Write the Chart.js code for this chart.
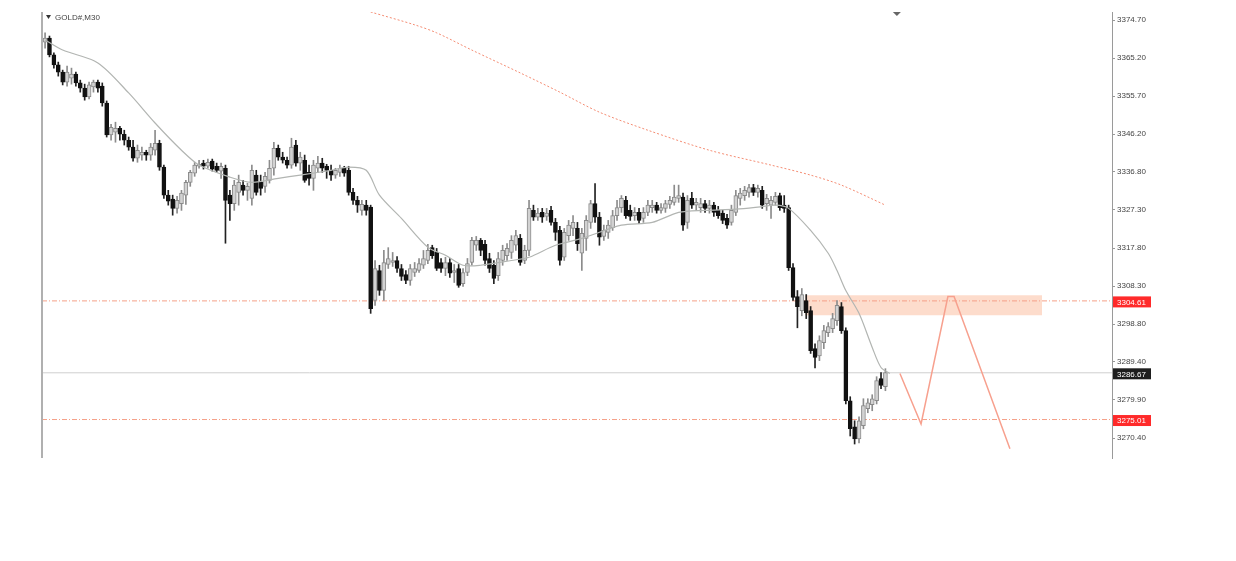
<!DOCTYPE html>
<html lang="en">
<head>
<meta charset="UTF-8">
<title>GOLD#,M30</title>
<script src="https://cdn.jsdelivr.net/npm/chart.js"></script>
<style>
  html, body { margin: 0; padding: 0; background: #fff; }
  #wrap { width: 1236px; height: 561px; }
</style>
</head>
<body>
<div id="wrap"><canvas id="goldChart" width="1236" height="561"></canvas></div>
<script>
const symbol = 'GOLD#,M30';

// M30 candles
const opens = [
  3369.2,3370.2,3366.0,3363.5,3361.7,3359.2,3360.2,3361.2,3359.0,3357.7,
  3355.5,3358.0,3359.2,3358.2,3354.0,3346.0,3346.7,3347.7,3346.2,3344.7,
  3343.0,3340.2,3341.0,3341.7,3341.0,3342.2,3343.9,3338.0,3331.0,3330.0,
  3327.7,3328.9,3331.0,3334.2,3336.5,3338.2,3339.0,3338.2,3339.5,3338.2,
  3337.0,3337.7,3331.0,3328.9,3331.7,3333.5,3332.2,3330.2,3336.0,3334.2,
  3333.2,3334.7,3337.7,3342.7,3340.5,3339.7,3338.5,3343.5,3339.0,3339.7,
  3336.7,3335.2,3337.7,3339.0,3338.2,3337.2,3336.0,3336.7,3337.7,3337.2,
  3331.7,3329.7,3327.2,3328.5,3328.0,3304.7,3312.2,3307.2,3313.7,3314.2,
  3314.7,3312.7,3311.2,3309.7,3311.7,3312.2,3313.5,3314.7,3317.9,3316.7,
  3314.2,3312.7,3314.2,3311.7,3312.7,3308.9,3311.7,3314.2,3318.5,3319.7,
  3318.7,3315.2,3313.5,3310.9,3314.7,3315.9,3316.7,3318.5,3320.2,3314.7,
  3317.2,3327.2,3325.5,3326.7,3325.7,3327.2,3324.2,3322.2,3315.5,3320.9,
  3322.7,3322.7,3316.5,3320.2,3324.2,3328.9,3325.5,3320.7,3321.7,3322.9,
  3325.9,3327.9,3329.7,3327.2,3325.9,3326.7,3325.2,3326.7,3327.9,3328.5,
  3327.2,3327.7,3328.7,3329.2,3330.2,3330.5,3324.2,3330.2,3328.5,3327.9,
  3328.9,3327.7,3328.5,3327.2,3326.5,3325.2,3324.2,3326.7,3330.2,3330.9,
  3331.7,3332.9,3331.7,3332.2,3328.9,3328.5,3329.2,3330.9,3328.5,3327.9,
  3312.9,3305.7,3302.2,3304.7,3302.2,3292.7,3290.9,3294.2,3296.7,3297.7,
  3299.7,3303.2,3297.2,3279.7,3273.2,3270.2,3273.5,3277.7,3278.7,3279.7,
  3285.2,3283.2
];
const highs = [
  3371.5,3370.7,3366.5,3364.2,3362.2,3363.2,3362.7,3361.7,3359.7,3358.7,
  3359.2,3359.7,3359.7,3359.0,3354.5,3348.7,3349.2,3348.2,3347.2,3345.5,
  3344.7,3343.5,3343.0,3342.2,3343.9,3347.2,3344.7,3338.5,3332.2,3331.0,
  3330.7,3332.2,3334.7,3337.2,3339.2,3339.7,3339.7,3340.0,3340.0,3339.0,
  3339.0,3338.5,3332.2,3334.7,3336.0,3334.7,3334.0,3338.5,3337.2,3336.0,
  3336.7,3339.7,3344.2,3343.5,3341.7,3340.5,3345.2,3344.7,3341.7,3341.0,
  3338.5,3339.7,3340.7,3340.2,3338.7,3338.5,3337.7,3338.5,3338.2,3338.2,
  3332.7,3330.7,3329.7,3329.7,3328.5,3314.7,3313.5,3317.2,3317.9,3316.7,
  3315.7,3313.7,3312.2,3313.7,3314.2,3315.2,3317.2,3318.7,3318.5,3317.7,
  3315.2,3315.5,3315.2,3313.7,3313.7,3312.7,3315.2,3320.5,3320.7,3320.2,
  3319.7,3316.5,3314.7,3316.7,3318.5,3318.9,3320.9,3322.2,3321.2,3318.5,
  3329.7,3328.5,3327.7,3327.7,3327.7,3328.2,3325.2,3323.2,3322.7,3324.7,
  3325.9,3324.2,3322.7,3325.9,3329.7,3333.9,3326.7,3323.5,3324.7,3327.2,
  3329.7,3330.9,3330.7,3328.5,3327.9,3327.7,3327.9,3329.7,3329.7,3329.2,
  3328.9,3329.7,3330.7,3333.5,3333.5,3331.5,3330.9,3331.7,3330.2,3330.2,
  3329.7,3329.7,3329.2,3328.2,3327.2,3326.2,3328.5,3332.2,3332.7,3333.2,
  3333.7,3333.7,3333.5,3333.2,3331.2,3330.7,3331.7,3331.5,3330.9,3328.5,
  3313.9,3307.2,3307.7,3306.2,3303.2,3293.9,3295.9,3298.5,3299.2,3301.5,
  3304.7,3304.2,3297.9,3280.7,3274.7,3275.7,3280.2,3280.2,3281.2,3285.7,
  3286.7,3287.7
];
const lows = [
  3367.7,3365.5,3362.7,3360.7,3358.5,3358.2,3358.7,3358.2,3356.7,3354.7,
  3355.0,3356.7,3356.7,3353.2,3345.5,3344.7,3344.2,3344.7,3343.5,3342.2,
  3339.5,3339.2,3339.7,3339.7,3339.7,3341.0,3337.2,3330.2,3328.5,3326.0,
  3326.5,3327.2,3328.7,3333.2,3335.7,3337.7,3337.5,3337.7,3337.0,3336.7,
  3335.2,3319.0,3324.7,3327.2,3328.5,3331.0,3329.7,3328.5,3331.0,3331.0,
  3331.7,3334.0,3336.0,3339.7,3339.0,3337.7,3337.7,3338.2,3337.2,3334.2,
  3333.5,3332.2,3336.7,3336.7,3335.2,3334.7,3335.2,3335.7,3335.7,3331.0,
  3328.7,3326.7,3326.0,3326.0,3301.5,3303.5,3306.0,3304.7,3312.7,3313.2,
  3311.7,3309.7,3308.9,3308.5,3310.7,3311.7,3312.7,3313.9,3315.2,3312.2,
  3311.7,3310.9,3310.5,3309.2,3308.0,3308.2,3310.9,3313.5,3317.2,3315.9,
  3313.5,3311.7,3308.9,3309.7,3313.5,3314.7,3315.2,3317.2,3313.5,3313.9,
  3315.9,3324.7,3324.7,3324.2,3324.7,3323.5,3319.7,3313.5,3314.7,3319.7,
  3320.9,3317.2,3312.2,3317.2,3322.7,3324.2,3318.5,3319.7,3320.2,3322.2,
  3324.7,3326.7,3325.2,3324.7,3324.7,3323.9,3324.2,3325.9,3326.7,3326.5,
  3326.5,3326.7,3327.7,3328.5,3329.2,3322.2,3322.7,3327.7,3327.2,3326.7,
  3326.7,3326.5,3325.7,3325.2,3323.9,3322.7,3323.5,3325.9,3328.5,3329.7,
  3330.5,3330.9,3330.5,3327.7,3327.2,3325.2,3328.5,3327.2,3326.7,3312.2,
  3304.7,3297.9,3300.9,3300.2,3291.5,3287.9,3289.7,3292.7,3295.7,3296.7,
  3298.5,3296.5,3278.9,3270.9,3268.9,3269.2,3272.7,3276.7,3277.2,3278.9,
  3282.7,3282.2
];
const closes = [
  3370.2,3366.0,3363.5,3361.7,3359.2,3361.7,3361.2,3359.0,3357.7,3355.5,
  3358.5,3359.2,3357.7,3354.0,3346.0,3347.9,3347.7,3346.2,3344.7,3343.0,
  3340.2,3342.2,3341.7,3341.0,3343.0,3343.9,3338.0,3331.0,3329.5,3327.7,
  3329.7,3331.5,3334.2,3336.7,3338.5,3338.7,3338.2,3339.2,3337.5,3337.2,
  3338.2,3329.7,3328.9,3333.5,3334.2,3332.2,3333.2,3337.2,3331.7,3332.7,
  3335.7,3337.7,3342.7,3340.5,3339.7,3338.5,3343.0,3339.0,3340.5,3334.7,
  3335.2,3338.5,3339.0,3337.7,3337.2,3336.0,3337.2,3337.7,3336.5,3331.7,
  3329.7,3328.5,3328.7,3327.2,3302.7,3312.7,3307.2,3314.2,3315.2,3314.7,
  3312.7,3310.7,3309.7,3312.7,3312.7,3313.9,3315.2,3317.2,3315.9,3312.7,
  3312.7,3314.2,3311.5,3312.2,3308.5,3311.7,3313.9,3319.7,3319.7,3317.2,
  3314.7,3312.7,3310.2,3315.2,3317.2,3317.7,3319.7,3320.9,3314.2,3317.2,
  3327.7,3325.5,3326.5,3325.5,3326.5,3324.2,3321.7,3314.7,3321.7,3323.5,
  3324.2,3318.9,3321.5,3324.7,3328.9,3325.5,3320.5,3322.2,3323.5,3325.9,
  3327.9,3330.2,3325.9,3325.7,3326.7,3324.7,3326.7,3328.5,3328.5,3327.2,
  3327.9,3328.9,3329.7,3330.5,3330.9,3323.5,3329.7,3328.5,3329.2,3328.9,
  3327.7,3328.5,3326.7,3325.9,3324.7,3323.5,3327.2,3330.9,3331.5,3332.2,
  3332.9,3331.7,3332.7,3328.5,3330.2,3329.7,3330.7,3327.9,3327.7,3312.9,
  3305.5,3303.2,3306.2,3301.7,3292.2,3290.5,3294.7,3297.2,3298.2,3300.2,
  3303.5,3297.2,3279.7,3272.7,3270.2,3274.7,3278.5,3279.2,3280.2,3284.7,
  3283.5,3286.7
];

// fast moving average (grey), by candle index
const maFastIdx = [0, 4, 12, 19, 25, 31, 35, 42, 47, 53, 58, 65, 69, 73, 76, 81, 87, 91, 95, 99,
  106, 110, 116, 122, 131, 138, 144, 150, 157, 162, 166, 169, 174, 178, 180, 182, 185, 188, 190, 192];
const maFastVals = [3369.7, 3367.2, 3364.0, 3356.5, 3349.0, 3342.2, 3338.5, 3335.5, 3334.2, 3335.2,
  3336.0, 3337.2, 3338.0, 3337.2, 3331.0, 3325.2, 3318.0, 3316.0, 3313.5, 3313.5,
  3314.7, 3315.5, 3318.5, 3320.2, 3323.5, 3324.2, 3326.7, 3327.2, 3327.5, 3328.0,
  3328.5, 3327.7, 3322.2, 3316.5, 3312.2, 3307.2, 3301.5, 3293.0, 3288.0, 3286.5];

// slow moving average (red dotted)
const maSlowIdx = [74, 84, 89, 97, 108, 117, 126, 137, 151, 165, 174, 181, 191];
const maSlowVals = [3376.7, 3373.5, 3371.5, 3367.2, 3361.5, 3356.7, 3351.7, 3347.2, 3342.2, 3338.5,
  3336.0, 3333.5, 3328.5];

// projected path
const projIdx = [194.3, 199.1, 205.2, 206.6, 219.3];
const projVals = [3286.5, 3273.9, 3305.7, 3305.7, 3267.7];

const yTicks = [3374.70, 3365.20, 3355.70, 3346.20, 3336.80, 3327.30, 3317.80,
  3308.30, 3298.80, 3289.40, 3279.90, 3270.40];
const levels = [3304.61, 3275.01];
const lastPrice = 3286.67;
const zoneTop = 3306.0, zoneBottom = 3301.0;
const zoneFrom = 172.7, zoneTo = 226.6;

const xMin = -0.7, xMax = 242.5;

const idx = opens.map((_, i) => i);
const isBull = idx.map(i => closes[i] >= opens[i]);
const pts = (xs, ys) => xs.map((x, i) => ({ x: x, y: ys[i] }));
const hline = v => [{ x: xMin, y: v }, { x: xMax, y: v }];

const overlay = {
  id: 'overlay',
  afterDraw(chart) {
    const c = chart.ctx, a = chart.chartArea, ys = chart.scales.y, xs = chart.scales.x;
    c.save();
    // left border
    c.strokeStyle = '#b0b0b0';
    c.lineWidth = 2;
    c.beginPath(); c.moveTo(a.left, a.top); c.lineTo(a.left, a.bottom); c.stroke();
    // title
    c.fillStyle = '#333';
    c.beginPath(); c.moveTo(46, 15); c.lineTo(51, 15); c.lineTo(48.5, 19); c.closePath(); c.fill();
    c.font = '8px "Liberation Sans", Arial, sans-serif';
    c.fillStyle = '#444';
    c.textBaseline = 'middle';
    c.fillText(symbol, 55, 17.5);
    // shift marker
    const sx = xs.getPixelForValue(193.6);
    c.fillStyle = '#666';
    c.beginPath(); c.moveTo(sx - 4, a.top); c.lineTo(sx + 4, a.top); c.lineTo(sx, a.top + 4); c.closePath(); c.fill();
    // price labels on the axis
    const tags = [
      { v: levels[0], bg: '#ff2a2a' },
      { v: levels[1], bg: '#ff2a2a' },
      { v: lastPrice, bg: '#1e1e1e' }
    ];
    c.font = '8px "Liberation Sans", Arial, sans-serif';
    tags.forEach(t => {
      const y = ys.getPixelForValue(t.v) + 1;
      c.fillStyle = t.bg;
      c.fillRect(ys.left + 1, y - 5.5, 38, 11);
      c.fillStyle = '#fff';
      c.fillText(t.v.toFixed(2), ys.left + 5, y + 0.5);
    });
    c.restore();
  }
};

new Chart(document.getElementById('goldChart'), {
  type: 'bar',
  data: {
    datasets: [
      {
        type: 'line', data: [{ x: zoneFrom, y: zoneTop }, { x: zoneTo, y: zoneTop }],
        fill: { value: zoneBottom }, backgroundColor: 'rgba(252,196,170,0.6)',
        borderWidth: 0, pointRadius: 0, order: 10
      },
      {
        type: 'line', data: hline(levels[0]), borderColor: '#f5a088', borderWidth: 1,
        borderDash: [5, 2, 1, 2], pointRadius: 0, order: 9
      },
      {
        type: 'line', data: hline(levels[1]), borderColor: '#f5a088', borderWidth: 1,
        borderDash: [5, 2, 1, 2], pointRadius: 0, order: 9
      },
      {
        type: 'line', data: hline(lastPrice), borderColor: '#cfcfcf', borderWidth: 1,
        pointRadius: 0, order: 9
      },
      {
        data: idx.map(i => ({ x: i, y: [lows[i], highs[i]] })),
        backgroundColor: idx.map(i => isBull[i] ? '#8c8c8c' : '#222222'),
        barThickness: 1, grouped: false, order: 6
      },
      {
        data: idx.map(i => ({ x: i, y: [opens[i], closes[i]] })),
        backgroundColor: idx.map(i => isBull[i] ? '#d2d2d2' : '#111111'),
        borderColor: idx.map(i => isBull[i] ? '#8a8a8a' : '#111111'),
        borderWidth: 1, borderSkipped: false,
        barThickness: 4, minBarLength: 1, grouped: false, order: 5
      },
      {
        type: 'line', data: pts(maFastIdx, maFastVals), borderColor: '#b2b5b2', borderWidth: 1.2,
        pointRadius: 0, tension: 0.3, order: 2
      },
      {
        type: 'line', data: pts(maSlowIdx, maSlowVals), borderColor: 'rgba(242,120,90,0.85)',
        borderWidth: 1, borderDash: [2, 2], pointRadius: 0, tension: 0.3, order: 2
      },
      {
        type: 'line', data: pts(projIdx, projVals), borderColor: '#f7a08e', borderWidth: 1.5,
        pointRadius: 0, order: 1
      }
    ]
  },
  options: {
    responsive: false,
    devicePixelRatio: 1,
    animation: false,
    layout: { padding: { left: 42, top: 12, bottom: 103, right: 0 } },
    plugins: { legend: { display: false }, tooltip: { enabled: false } },
    scales: {
      x: { type: 'linear', min: xMin, max: xMax, display: false, offset: false },
      y: {
        position: 'right', min: 3265.41, max: 3376.70,
        afterBuildTicks: s => { s.ticks = yTicks.map(v => ({ value: v })); },
        afterFit: s => { s.width = 124; },
        ticks: {
          callback: v => Number(v).toFixed(2),
          font: { family: '"Liberation Sans", Arial, sans-serif', size: 8 },
          color: '#444', padding: 2
        },
        grid: { drawOnChartArea: false, tickLength: 3, color: '#999' },
        border: { color: '#9a9a9a', width: 1 }
      }
    }
  },
  plugins: [overlay]
});
</script>
</body>
</html>
